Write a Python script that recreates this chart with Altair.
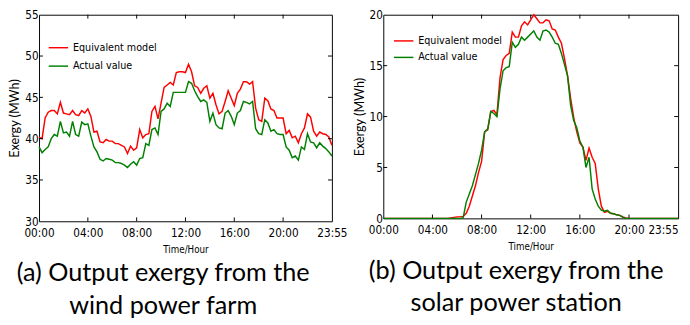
import altair as alt
import pandas as pd

# time grid (hours, 15-minute steps)
hours = [i * 0.25 for i in range(97)]

series_names = ["Equivalent model", "Actual value"]
series_colors = ["#ff0000", "#008000"]

wind_model = [40.2, 40.0, 42.5, 43.2, 43.4, 43.4, 43.0, 44.4, 43.1, 43.0, 42.9, 43.4,
              42.9, 42.8, 43.4, 43.1, 43.6, 42.7, 40.8, 40.9, 39.6, 39.5, 39.9, 39.7,
              39.7, 39.4, 39.4, 39.2, 39.0, 38.2, 39.1, 38.6, 38.9, 41.1, 40.1, 40.5,
              40.6, 43.3, 43.9, 42.4, 44.3, 46.2, 46.5, 46.8, 46.5, 48.0, 48.1, 48.1,
              48.0, 49.0, 48.1, 46.4, 46.2, 45.5, 46.1, 46.4, 44.9, 45.5, 44.1, 43.0,
              43.3, 44.5, 45.8, 44.9, 44.0, 45.5, 46.0, 46.9, 46.9, 46.6, 46.9, 43.7,
              42.3, 42.1, 44.9, 44.6, 43.6, 43.4, 42.5, 42.5, 42.5, 40.6, 41.0, 40.1,
              40.3, 39.5, 40.6, 41.3, 43.0, 42.6, 40.9, 40.3, 40.8, 40.6, 40.5, 40.2,
              39.2]
wind_actual = [39.0, 38.3, 38.7, 39.0, 40.0, 40.5, 40.3, 42.1, 40.7, 40.8, 40.3, 42.1,
               40.5, 40.3, 42.0, 41.7, 41.8, 40.3, 39.0, 38.4, 37.5, 37.3, 37.6, 37.5,
               37.4, 37.1, 37.1, 37.0, 36.8, 36.5, 36.9, 37.2, 36.8, 37.6, 37.7, 39.4,
               39.2, 41.1, 41.3, 40.5, 43.3, 43.6, 44.3, 43.9, 45.6, 45.6, 45.6, 45.6,
               45.6, 46.9, 46.7, 45.8, 45.1, 44.5, 44.7, 44.4, 42.1, 43.1, 41.7, 41.3,
               41.2, 43.1, 43.4, 42.7, 41.7, 43.1, 43.4, 44.5, 44.4, 44.2, 44.5, 41.2,
               40.6, 40.5, 42.3, 41.9, 40.9, 41.1, 40.6, 40.5, 40.5, 39.0, 38.6, 37.7,
               37.9, 37.4, 39.0, 38.7, 40.6, 39.6, 39.5, 38.9, 39.5, 39.1, 38.8, 38.4,
               37.9]

solar_model = [0, 0, 0, 0, 0, 0, 0, 0, 0, 0, 0, 0, 0, 0, 0, 0, 0, 0, 0, 0, 0, 0,
               0.05, 0.1, 0.15, 0.15, 0.2, 0.5, 1.2, 2.2, 3.2, 4.5, 5.6, 8.5, 8.7, 10.5,
               10.6, 10.2, 13.8, 15.6, 16.0, 16.2, 18.3, 17.8, 17.8, 18.9, 19.3, 19.0,
               19.5, 20.0, 19.6, 19.2, 19.2, 19.5, 19.4, 18.6, 18.5, 17.8, 17.2, 15.7,
               14.0, 11.8, 9.9, 8.5, 7.4, 7.0, 5.7, 6.9, 6.0, 5.4, 2.9, 1.2,
               0.6, 0.7, 0.5, 0.45, 0.35, 0.3, 0.15, 0.05,
               0, 0, 0, 0, 0, 0, 0, 0, 0, 0, 0, 0, 0, 0, 0, 0, 0]
solar_actual = [0, 0, 0, 0, 0, 0, 0, 0, 0, 0, 0, 0, 0, 0, 0, 0, 0, 0, 0, 0, 0, 0,
                0, 0, 0, 0, 0.05, 1.6, 2.4, 3.2, 4.3, 5.4, 6.7, 8.5, 8.8, 10.5,
                10.3, 10.0, 12.7, 14.5, 14.8, 14.9, 17.3, 16.8, 17.1, 17.8, 17.5, 17.8,
                18.1, 18.4, 17.8, 17.5, 18.4, 18.5, 18.3, 17.8, 17.2, 17.1, 16.2, 15.1,
                14.0, 11.1, 9.6, 8.9, 7.6, 7.0, 5.0, 6.0, 2.9, 1.9, 1.2, 0.8,
                0.7, 0.8, 0.5, 0.45, 0.35, 0.3, 0.1, 0,
                0, 0, 0, 0, 0, 0, 0, 0, 0, 0, 0, 0, 0, 0, 0, 0, 0]

x_ticks = [0, 4, 8, 12, 16, 20, 24]
x_inner_ticks = [4, 8, 12, 16, 20]
wind_y_ticks = [30, 35, 40, 45, 50, 55]
solar_y_ticks = [0, 5, 10, 15, 20]

NARROW = "Liberation Sans Narrow, DejaVu Sans Condensed, sans-serif"
CAP = "Lato, Open Sans, sans-serif"


def long_df(a, b):
    rows = []
    for name, vals in zip(series_names, [a, b]):
        for t, v in zip(hours, vals):
            rows.append({"t": t, "v": v, "s": name})
    return pd.DataFrame(rows)


def panel(df, ydom, yticks, w, h, caption, lx, ly, rowpad, last_align, cap_dx):
    label_expr = ("datum.value == 24 ? '23:55' : "
                  "(datum.value < 10 ? '0' : '') + datum.value + ':00'")
    xax = alt.Axis(values=x_ticks, labelExpr=label_expr, title="Time/Hour",
                   ticks=False, grid=False, domain=False,
                   labelFont=NARROW, labelFontSize=12, labelPadding=7,
                   labelColor="black",
                   labelAlign={"condition": {"test": "datum.value == 24",
                                             "value": last_align},
                               "value": "center"},
                   titleFont=NARROW, titleFontSize=10, titleFontWeight="normal",
                   titlePadding=6, titleColor="black")
    yax = alt.Axis(values=yticks, title="Exergy (MWh)", ticks=False, grid=False,
                   domain=False, labelFont=NARROW, labelFontSize=12,
                   labelPadding=1, labelColor="black",
                   titleFont=CAP, titleFontSize=13, titleFontWeight="normal",
                   titlePadding=3, titleColor="black")
    xs = alt.X("t:Q", scale=alt.Scale(domain=[0, 24], nice=False, zero=False), axis=xax)
    ys = alt.Y("v:Q", scale=alt.Scale(domain=ydom, nice=False, zero=False), axis=yax)

    lines = alt.Chart(df).mark_line(strokeWidth=1.5).encode(
        x=xs, y=ys,
        color=alt.Color("s:N", sort=series_names,
                        scale=alt.Scale(domain=series_names, range=series_colors),
                        legend=alt.Legend(orient="none", legendX=lx, legendY=ly,
                                          title=None, symbolType="stroke",
                                          symbolSize=400, symbolStrokeWidth=1.5,
                                          labelFont=NARROW, labelFontSize=11,
                                          labelColor="black", labelOffset=4,
                                          rowPadding=rowpad)),
        order=alt.Order("t:Q"),
    )

    xt = pd.DataFrame({"t": x_inner_ticks})
    yt = pd.DataFrame({"v": yticks[1:-1]})
    bot = alt.Chart(xt).mark_rule(color="black").encode(
        x="t:Q", y=alt.value(h), y2=alt.value(h - 4))
    top = alt.Chart(xt).mark_rule(color="black").encode(
        x="t:Q", y=alt.value(0), y2=alt.value(4))
    lef = alt.Chart(yt).mark_rule(color="black").encode(
        y="v:Q", x=alt.value(0), x2=alt.value(4))
    rig = alt.Chart(yt).mark_rule(color="black").encode(
        y="v:Q", x=alt.value(w), x2=alt.value(w - 4))

    return alt.layer(lines, bot, top, lef, rig).properties(
        width=w, height=h,
        title=alt.TitleParams(text=caption, orient="bottom", anchor="middle",
                              frame="group", font=CAP, fontSize=26,
                              fontWeight="normal", lineHeight=34, color="black",
                              offset=7, dx=cap_dx),
    )


left = panel(long_df(wind_model, wind_actual), [30, 55], wind_y_ticks, 302, 213,
             ["(a) Output exergy from the", "wind power farm"], 9, 23, 3, "center", -23)
right = panel(long_df(solar_model, solar_actual), [0, 20], solar_y_ticks, 304, 210,
              ["(b) Output exergy from the", "solar power station"], 10, 16, 1, "right", -15)

chart = alt.hconcat(left, right, spacing=4).resolve_legend(color="independent").properties(
    padding={"left": 0, "top": -5, "right": 0, "bottom": 0},
    background="white",
).configure_view(stroke="black", strokeWidth=1)

chart.save("out.html", embed_options={"renderer": "svg", "actions": False})
